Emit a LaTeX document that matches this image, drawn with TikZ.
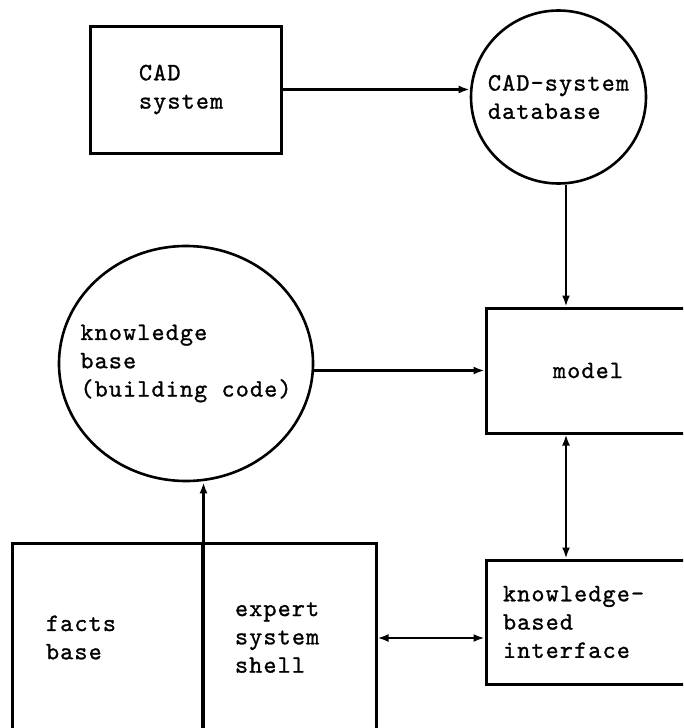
\documentclass[tikz,border=0pt]{standalone}
\usepackage{fontspec}
\newfontfamily\diagfont{lmmono10-regular}[Extension=.otf,LetterSpace=4.4,FakeBold=1]
\usetikzlibrary{arrows.meta,shapes.geometric}
\begin{document}
\begin{tikzpicture}[x=1pt,y=-1pt,
		font=\diagfont\fontsize{25}{28.3}\selectfont,
		box/.style={draw,line width=3pt,rectangle,align=left,inner sep=0pt},
		disc/.style={draw,line width=2.6pt,ellipse,align=left,inner ysep=0pt},
		arr/.style={line width=2.2pt,-{Latex[length=11pt,width=8pt]}},
		dbl/.style={line width=2.2pt,{Latex[length=11pt,width=8pt]}-{Latex[length=11pt,width=8pt]}}]
			\useasboundingbox (0,0) rectangle (683,728);
			\clip (0,0) rectangle (683,728);
			\node[box,minimum height=127pt,text width=93pt,inner xsep=49pt] (cad) at (185.5,89.5) {CAD\\system};
			\node[disc,inner xsep=-12pt,minimum width=175pt,minimum height=173pt] (db) at (558.5,97) {CAD-system\\database};
			\node[disc,inner xsep=-20pt,minimum width=254pt,minimum height=235pt] (kb) at (186,363.5) {knowledge\\base\\(building code)};
			\node[box,minimum width=204pt,minimum height=125pt] (model) at (588,370.5) {model};
			\node[box,minimum height=124pt,text width=180pt,inner xsep=17pt] (kbi) at (593,622) {knowledge-\\based\\interface};
			\node[box,minimum height=189pt,text width=122pt,inner xsep=34pt] (facts) at (107,637.5) {facts\\base};
			\node[box,minimum height=189pt,text width=108pt,inner xsep=33pt] (shell) at (289,637.5) {expert\\system\\shell};
			\path (566,0) coordinate (spine);
			\path (0,638) coordinate (bus);
			\draw[arr] (cad.east) -- (cad.east -| db.west);
			\draw[arr] (spine |- db.south) -- (spine |- model.north);
			\draw[arr] (model.west -| kb.east) -- (model.west);
			\draw[dbl] (spine |- model.south) -- (spine |- kbi.north);
			\draw[dbl] (shell.east |- bus) -- (kbi.west |- bus);
			\draw[arr] (facts.south east) -- (facts.south east |- kb.south);
		\end{tikzpicture}
\end{document}
